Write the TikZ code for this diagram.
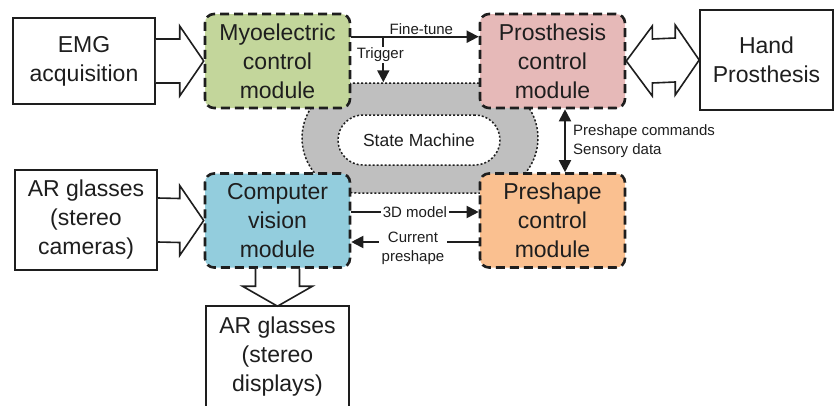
\documentclass[tikz,border=0pt]{standalone}
\usepackage{fontspec}
\setmainfont{Liberation Sans}
\usetikzlibrary{arrows.meta,calc}
\definecolor{myogreen}{HTML}{C3D69B}
\definecolor{propink}{HTML}{E6B9B8}
\definecolor{cvblue}{HTML}{93CDDD}
\definecolor{preorange}{HTML}{FAC090}
\definecolor{smgray}{HTML}{BFBFBF}
\definecolor{ink}{HTML}{1E1E1E}
\begin{document}
\begin{tikzpicture}[x=1pt,y=-1pt,
  modbox/.style={draw=ink, line width=2.6pt, dash pattern=on 9pt off 5pt, rounded corners=9pt,
    minimum width=145pt, minimum height=94pt, align=center, inner sep=0pt,
    font=\fontsize{23}{29}\selectfont, text=ink},
  plainbox/.style={draw=ink, line width=1.6pt, align=center, inner sep=0pt,
    font=\fontsize{23}{29}\selectfont, text=ink},
  plainline/.style={draw=ink, line width=1.6pt},
  hollow/.style={draw=ink, line width=1.6pt, fill=white, line join=miter},
  arr/.style={draw=ink, line width=1.9pt, -{Triangle[length=12pt,width=12pt]}},
  arrboth/.style={draw=ink, line width=1.9pt, {Triangle[length=12pt,width=12pt]}-{Triangle[length=12pt,width=12pt]}},
  lbl/.style={font=\fontsize{15}{19}\selectfont, inner sep=1pt, align=center, text=ink},
  dotline/.style={draw=ink, line width=1.5pt, dash pattern=on 2pt off 2pt}
]
\useasboundingbox (0,0) rectangle (836,405);

% state machine
\node[dotline, fill=smgray, rounded corners=55pt, minimum width=236pt, minimum height=110pt, inner sep=0pt] (sm) at (420,138) {};
\node[dotline, fill=white, rounded corners=25pt, minimum width=162pt, minimum height=50pt, inner sep=0pt,
  font=\fontsize{17.5}{20}\selectfont, text=ink] (smin) at (419,140) {State Machine};

% modules
\node[modbox, fill=myogreen] (myo) at (277.5,61) {Myoelectric\\control\\module};
\node[modbox, fill=propink] (pro) at (552.5,61) {Prosthesis\\control\\module};
\node[modbox, fill=cvblue] (cv) at (277.5,220.5) {Computer\\vision\\module};
\node[modbox, fill=preorange] (pre) at (552.5,220.5) {Preshape\\control\\module};

% plain boxes
\node[plainbox, minimum width=142pt, minimum height=86pt] (emg) at (84,61) {EMG\\acquisition};
\node[plainbox, minimum width=142pt, minimum height=100pt] (cam) at (86,220) {AR glasses\\(stereo\\cameras)};
\node[plainbox, minimum width=133pt, minimum height=100pt] (hand) at (766.5,60) {Hand\\Prosthesis};
\node[plainbox, draw=none, minimum width=141pt, minimum height=100pt] (ard) at (277.5,357) {AR glasses\\(stereo\\displays)};
\draw[plainline] (ard.south west) -- (ard.north west) -- (ard.north east) -- (ard.south east);

% hollow arrows
\draw[hollow] ($(emg.east)+(0,-22)$) -- ($(myo.west)+(-24,-22)$) -- ($(myo.west)+(-24,-35)$) -- (myo.west)
  -- ($(myo.west)+(-24,35)$) -- ($(myo.west)+(-24,22)$) -- ($(emg.east)+(0,22)$);
\draw[hollow] ($(cam.east)+(0,-22)$) -- ($(cv.west)+(-24,-22)$) -- ($(cv.west)+(-24,-35)$) -- (cv.west)
  -- ($(cv.west)+(-24,35)$) -- ($(cv.west)+(-24,22)$) -- ($(cam.east)+(0,22)$);
\draw[hollow] (pro.east) -- ($(pro.east)+(26,-35)$) -- ($(pro.east)+(26,-22)$) -- ($(hand.west)+(-24,-22)$)
  -- ($(hand.west)+(-24,-35)$) -- (hand.west) -- ($(hand.west)+(-24,35)$) -- ($(hand.west)+(-24,22)$)
  -- ($(pro.east)+(26,22)$) -- ($(pro.east)+(26,35)$) -- cycle;
\draw[hollow] ($(cv.south)+(-22,0)$) -- ($(ard.north)+(-22,-20)$) -- ($(ard.north)+(-35,-20)$) -- (ard.north)
  -- ($(ard.north)+(35,-20)$) -- ($(ard.north)+(22,-20)$) -- ($(cv.south)+(22,0)$);

% fine-tune and trigger
\draw[arr] ([yshift=-24pt]myo.north east) -- node[lbl, above, pos=0.55] (ft) {Fine-tune} ([yshift=-24pt]pro.north west);
\coordinate (tr) at ($([yshift=-24pt]myo.north east)+(32,0)$);
\draw[arr] (tr) -- (tr |- sm.north);
\node[lbl, fill=white] (trl) at ($(tr)+(-3,18)$) {Trigger};

% 3D model / current preshape
\draw[arr] ([yshift=8.5pt]cv.east) -- node[lbl, fill=white, inner xsep=2pt] (m3d) {3D model} ([yshift=8.5pt]pre.west);
\draw[arr] ([yshift=-21.5pt]pre.west) -- ([yshift=-21.5pt]cv.east);
\node[lbl, fill=white, inner xsep=3pt] (cur) at (413,248) {Current\\preshape};

% vertical double arrow
\draw[arrboth] ([xshift=12.5pt]pro.south) -- ([xshift=12.5pt]pre.north);
\node[lbl, align=left, anchor=west] (psc) at (572,141) {Preshape commands\\Sensory data};
\end{tikzpicture}
\end{document}
